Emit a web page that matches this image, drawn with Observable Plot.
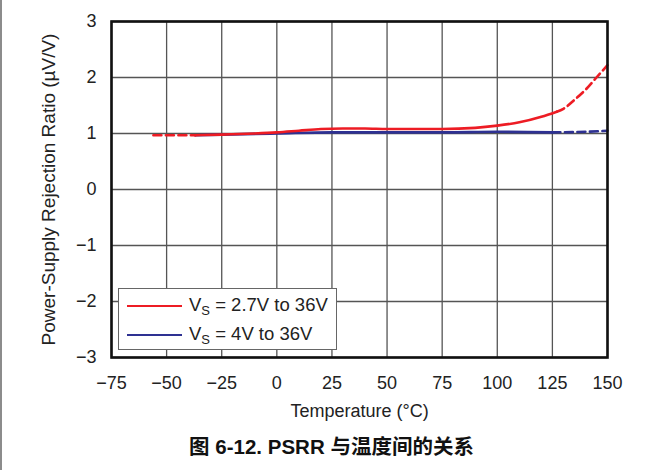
<!DOCTYPE html>
<html>
<head>
<meta charset="utf-8">
<script src="https://cdn.jsdelivr.net/npm/d3@7"></script>
<script src="https://cdn.jsdelivr.net/npm/@observablehq/plot@0.6"></script>
<style>
  html, body { margin: 0; padding: 0; background: #fff; }
  #wrap { position: relative; width: 663px; height: 470px; overflow: hidden; }
  #edge { position: absolute; left: 0; top: 0; width: 2px; height: 470px; background: #8c8c8c; }
  #legend { position: absolute; left: 118px; top: 288px; width: 219px; height: 62px; box-sizing: border-box;
            border: 1px solid #666; background: #fff; font-family: "Liberation Sans", Arial, sans-serif; font-size: 18.5px; color: #222; }
  .entry { position: absolute; left: 8px; height: 20px; display: flex; align-items: center; white-space: nowrap; }
  .swatch { width: 55px; height: 0; border-top: 2.5px solid; margin-right: 7px; }
  .entry sub { font-size: 13px; vertical-align: -4px; }
  #caption { position: absolute; left: 0; top: 432px; width: 663px; height: 30px; line-height: 30px; text-align: center;
             font-family: "Liberation Sans", "Noto Sans CJK SC", Arial, sans-serif; font-weight: bold; font-size: 20.5px; color: #111; }
</style>
</head>
<body>
<div id="wrap">
  <div id="chart"></div>
  <div id="legend"></div>
  <div id="caption"></div>
  <div id="edge"></div>
</div>
<script>
// ---- data ----
const redTemp = [-56, -50, -37, -25, -10, 0, 10, 20, 30, 40, 50, 60, 75, 90, 100, 110, 120, 127, 130, 135, 140, 145, 150];
const redPsrr = [0.97, 0.97, 0.97, 0.98, 1.0, 1.02, 1.05, 1.08, 1.09, 1.09, 1.08, 1.08, 1.08, 1.1, 1.14, 1.2, 1.3, 1.39, 1.44, 1.6, 1.78, 2.0, 2.22];
const redMeasured = [-37, 127];

const blueTemp = [-37, -25, 0, 25, 50, 75, 100, 125, 140, 150];
const bluePsrr = [0.97, 0.98, 1.0, 1.02, 1.02, 1.02, 1.03, 1.02, 1.03, 1.05];
const blueMeasured = [-37, 125];

const seriesNames = ["V<sub>S</sub> = 2.7V to 36V", "V<sub>S</sub> = 4V to 36V"];
const seriesColors = ["#ed1c24", "#2e3192"];

const xTicks = [-75, -50, -25, 0, 25, 50, 75, 100, 125, 150];
const yTicks = [-3, -2, -1, 0, 1, 2, 3];
const xLabel = "Temperature (°C)";
const yLabel = "Power-Supply Rejection Ratio (µV/V)";
const captionText = "图 6-12. PSRR 与温度间的关系";

// ---- build segments ----
function points(temps, vals) { return temps.map((t, i) => ({t, v: vals[i]})); }
function segments(temps, vals, range) {
  const p = points(temps, vals);
  return {
    low: p.filter(d => d.t <= range[0]),
    mid: p.filter(d => d.t >= range[0] && d.t <= range[1]),
    high: p.filter(d => d.t >= range[1])
  };
}
const red = segments(redTemp, redPsrr, redMeasured);
const blue = segments(blueTemp, bluePsrr, blueMeasured);

const fmt = d => d < 0 ? "\u2212" + (-d) : String(d);
const lineOpts = (c, dashed) => ({x: "t", y: "v", stroke: c, strokeWidth: 2.6, curve: "monotone-x", strokeDasharray: dashed ? "8,4.5" : null});

const chart = Plot.plot({
  width: 663,
  height: 432,
  marginLeft: 111,
  marginRight: 56,
  marginTop: 21,
  marginBottom: 75,
  style: {fontFamily: "'Liberation Sans', Arial, sans-serif", fontSize: "18px", color: "#222", background: "#fff"},
  x: {domain: [-75, 150]},
  y: {domain: [-3, 3]},
  marks: [
    Plot.gridX(xTicks, {stroke: "#555", strokeOpacity: 1, strokeWidth: 1.3}),
    Plot.gridY(yTicks, {stroke: "#555", strokeOpacity: 1, strokeWidth: 1.3}),
    Plot.line(blue.low, lineOpts(seriesColors[1], true)),
    Plot.line(blue.mid, lineOpts(seriesColors[1], false)),
    Plot.line(blue.high, lineOpts(seriesColors[1], true)),
    Plot.line(red.low, lineOpts(seriesColors[0], true)),
    Plot.line(red.mid, lineOpts(seriesColors[0], false)),
    Plot.line(red.high, lineOpts(seriesColors[0], true)),
    Plot.frame({stroke: "#111", strokeWidth: 2.6}),
    Plot.axisX(xTicks, {tickSize: 0, tickPadding: 19, tickFormat: fmt, fontSize: 18, label: null}),
    Plot.axisX({label: xLabel, labelAnchor: "center", labelArrow: "none", labelOffset: 59, ticks: [], fontSize: 18}),
    Plot.axisY(yTicks, {tickSize: 0, tickPadding: 15, tickFormat: fmt, fontSize: 18, label: null}),
    Plot.axisY({label: yLabel, labelAnchor: "center", labelArrow: "none", labelOffset: 70, ticks: [], fontSize: 19})
  ]
});
document.getElementById("chart").appendChild(chart);

const legend = document.getElementById("legend");
seriesNames.forEach((name, i) => {
  const e = document.createElement("div");
  e.className = "entry";
  e.style.top = (7 + i * 29) + "px";
  e.innerHTML = `<span class="swatch" style="border-color:${seriesColors[i]}"></span><span>${name}</span>`;
  legend.appendChild(e);
});
document.getElementById("caption").textContent = captionText;
</script>
</body>
</html>
